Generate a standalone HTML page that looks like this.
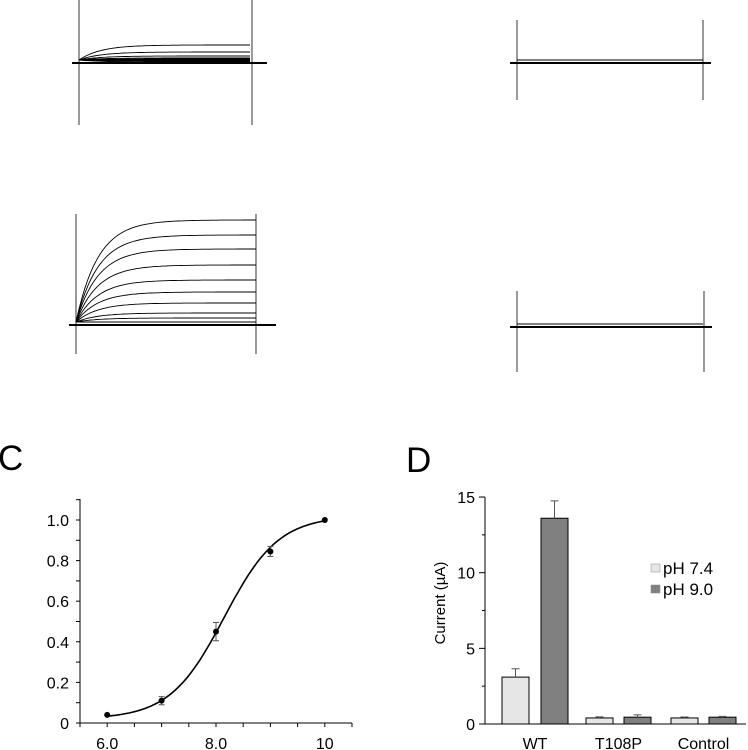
<!DOCTYPE html>
<html><head><meta charset="utf-8"><style>
html,body{margin:0;padding:0;background:#fff;}
svg{display:block;font-family:"Liberation Sans",sans-serif;}
</style></head><body>
<svg id="fig" width="748" height="750" viewBox="0 0 748 750">
<g id="traces" fill="none" stroke="#000"></g>
<text x="-2" y="470" font-size="35">C</text>
<text x="406" y="472" font-size="35">D</text>
<g id="chartC"></g>
<g id="chartD"></g>
</svg>
<script>
const NS="http://www.w3.org/2000/svg";
function mk(p,t,a){const e=document.createElementNS(NS,t);for(const k in a)e.setAttribute(k,a[k]);p.appendChild(e);return e;}

// ---------- Trace panels ----------
const trLevelsTL=[45,52,56,58,59,60,61,62];
const trLevelsML=[220,235,249,265,280,292,303,313,318,322];
const tg=document.getElementById('traces');
function tracePanel(x0,x1,base,vTop,vBot,levels,name,ext){
  const g=mk(tg,'g',{});
  
  
  mk(g,'line',{x1:x0,y1:vTop,x2:x0,y2:vBot,'stroke-width':0.8});
  mk(g,'line',{x1:x1,y1:vTop,x2:x1,y2:vBot,'stroke-width':0.8});
  mk(g,'line',{x1:x0-7,y1:base,x2:x1+ext,y2:base,'stroke-width':2});
  levels.forEach(L=>{
    let d='M'+x0+','+(base-3);
    for(let x=x0;x<=x1;x+=3){const t=(x-x0)/22;const y=L+(base-3-L)*Math.exp(-t);d+=' L'+x+','+y.toFixed(1);}
    mk(g,'path',{d:d,'stroke-width':0.9});
  });
}
tracePanel(79,252,63,0,125,trLevelsTL,'trace-wt-ph74',15);
tracePanel(76,256,325,214,354,trLevelsML,'trace-wt-ph90',20);
tracePanel(517,703,63,20,100,[60],'trace-t108p-ph74',8);
tracePanel(517,704,327,291,372,[324],'trace-t108p-ph90',8);

// ---------- Chart C ----------
const cX=[6,7,8,9,10];
const cY=[0.04,0.11,0.45,0.845,1.0];
const cErr=[0.0,0.02,0.045,0.025,0.0];
const cXTicks=[6,8,10];
const cXTickLabels=["6.0","8.0","10"];
const cYTicks=[0,0.2,0.4,0.6,0.8,1.0];
const cYTickLabels=["0","0.2","0.4","0.6","0.8","1.0"];
const cFit={bottom:0.02,top:1.02,x0:8.15,dx:0.5};
(function(){
  const g=document.getElementById('chartC');
  const sx=v=>80+(v-5.5)*54.4, sy=v=>723-v*203;
  const ax=mk(g,'path',{d:'M80,499 L80,723 L352,723',stroke:'#000',fill:'none','stroke-width':1});
  
  for(let v=5.5;v<=10.51;v+=0.5)mk(g,'line',{x1:sx(v),y1:723,x2:sx(v),y2:727,stroke:'#000'});
  for(let v=0;v<=1.1;v+=0.1)mk(g,'line',{x1:76,y1:sy(v),x2:80,y2:sy(v),stroke:'#000'});
  cXTicks.forEach((v,i)=>{const t=mk(g,'text',{x:sx(v),y:749,'font-size':16,'text-anchor':'middle'});t.textContent=cXTickLabels[i];
    });
  cYTicks.forEach((v,i)=>{const t=mk(g,'text',{x:69,y:sy(v)+6,'font-size':16,'text-anchor':'end'});t.textContent=cYTickLabels[i];
    });
  let d='';
  for(let x=6;x<=10.001;x+=0.05){const y=cFit.bottom+(cFit.top-cFit.bottom)/(1+Math.exp(-(x-cFit.x0)/cFit.dx));d+=(d?' L':'M')+sx(x).toFixed(1)+','+sy(y).toFixed(1);}
  const fit=mk(g,'path',{d:d,stroke:'#000',fill:'none','stroke-width':1.6});
  
  cX.forEach((x,i)=>{
    if(cErr[i]>0){const e=mk(g,'path',{d:`M${sx(x)-3},${sy(cY[i]+cErr[i])} h6 M${sx(x)},${sy(cY[i]+cErr[i])} V${sy(cY[i]-cErr[i])} M${sx(x)-3},${sy(cY[i]-cErr[i])} h6`,stroke:'#555',fill:'none'});
      }
    const p=mk(g,'circle',{cx:sx(x),cy:sy(cY[i]),r:3,fill:'#000'});
    
  });
})();

// ---------- Chart D ----------
const dCats=["WT","T108P","Control"];
const dPh74=[3.1,0.4,0.4];
const dPh74Err=[0.55,0.07,0.06];
const dPh90=[13.6,0.45,0.45];
const dPh90Err=[1.15,0.15,0.05];
const dYTicks=[0,5,10,15];
const dYTickLabels=["0","5","10","15"];
(function(){
  const g=document.getElementById('chartD');
  const sy=v=>724-v*15.13;
  const lx=[502,586,671], dxs=[541,624,709];
  const ax=mk(g,'path',{d:'M485,497 L485,724 L746,724',stroke:'#000',fill:'none','stroke-width':1});
  
  for(let v=0;v<=15;v+=2.5)mk(g,'line',{x1:(v%5===0?479:482),y1:sy(v),x2:485,y2:sy(v),stroke:'#000'});
  dYTicks.forEach((v,i)=>{const t=mk(g,'text',{x:475,y:sy(v)+6,'font-size':16,'text-anchor':'end'});t.textContent=dYTickLabels[i];
    });
  const yl=mk(g,'text',{x:0,y:0,'font-size':15,'text-anchor':'middle',transform:'translate(445,603) rotate(-90)'});yl.textContent='Current (µA)';
  
  function bar(x,v,e,fill,name){
    const r=mk(g,'rect',{x:x,y:sy(v),width:27,height:724-sy(v),fill:fill,stroke:'#000','stroke-width':1});
    
    const eb=mk(g,'path',{d:`M${x+13.5},${sy(v)} V${sy(v+e)} M${x+9.5},${sy(v+e)} h8`,stroke:'#555',fill:'none'});
    
  }
  dCats.forEach((c,i)=>{
    bar(lx[i],dPh74[i],dPh74Err[i],'#e6e6e6','bar-ph74-'+c.toLowerCase());
    bar(dxs[i],dPh90[i],dPh90Err[i],'#808080','bar-ph90-'+c.toLowerCase());
    const t=mk(g,'text',{x:(lx[i]+dxs[i]+27)/2,y:749,'font-size':16,'text-anchor':'middle'});t.textContent=c;
    
  });
  [['pH 7.4','#e6e6e6',568],['pH 9.0','#808080',589]].forEach(([l,f,y])=>{
    const gg=mk(g,'g',{});
    mk(gg,'rect',{x:651,y:y-4,width:9,height:8,fill:f,stroke:'#888','stroke-width':0.5});
    const t=mk(gg,'text',{x:663,y:y+6,'font-size':17});t.textContent=l;
  });
})();
</script>
</body></html>
